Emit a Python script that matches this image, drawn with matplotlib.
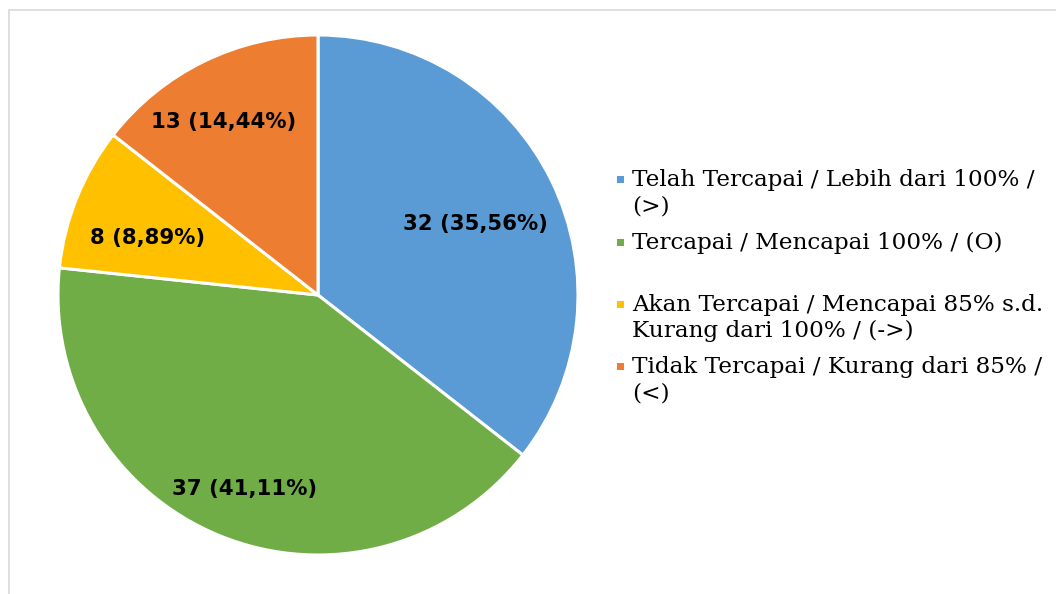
import matplotlib.pyplot as plt
from matplotlib.patches import Rectangle
import numpy as np

# Data
counts = [32, 37, 8, 13]
categories = [
    "Telah Tercapai / Lebih dari 100% /\n(>)",
    "Tercapai / Mencapai 100% / (O)",
    "Akan Tercapai / Mencapai 85% s.d.\nKurang dari 100% / (->)",
    "Tidak Tercapai / Kurang dari 85% /\n(<)",
]
colors = ["#5B9BD5", "#70AD47", "#FFC000", "#ED7D31"]

W, H = 1056, 594
fig = plt.figure(figsize=(W / 100, H / 100), dpi=100)

# light gray chart frame (Excel style)
fig.patches.append(Rectangle((8.5 / W, -0.02), 1.05, 1 - 9.5 / H + 0.02,
                             transform=fig.transFigure, fill=False,
                             edgecolor="#D9D9D9", linewidth=1.2))

# pie axes: center (318, 295) px, radius 260 px
cx, cy, r = 318, 295, 260
ax = fig.add_axes([(cx - r) / W, (H - cy - r) / H, 2 * r / W, 2 * r / H])
wedges, _ = ax.pie(counts, colors=colors, startangle=90, counterclock=False,
                   radius=1, wedgeprops=dict(edgecolor="white", linewidth=2.2))
ax.set_xlim(-1, 1)
ax.set_ylim(-1, 1)
ax.set_aspect("equal")
ax.axis("off")

# data labels (Excel best-fit positions: radius fraction, angle shift in deg)
label_pos = [(0.663, -1.7), (0.798, 1.2), (0.69, 3.5), (0.758, 2.6)]
total = sum(counts)
for w, n, (rf, da) in zip(wedges, counts, label_pos):
    ang = np.deg2rad((w.theta1 + w.theta2) / 2 + da)
    txt = f"{n} ({n / total * 100:.2f}%)".replace(".", ",")
    ax.text(rf * np.cos(ang), rf * np.sin(ang), txt, ha="center", va="center",
            fontsize=15.3, fontweight="bold", family="DejaVu Sans", color="black")

# legend drawn by hand to match the Excel layout
baselines = [186, 249, 311, 373]
for lab, col, yb in zip(categories, colors, baselines):
    fig.patches.append(Rectangle((617 / W, (H - yb + 3) / H), 7 / W, 7 / H,
                                 transform=fig.transFigure, facecolor=col,
                                 edgecolor="none"))
    lines = lab.split("\n")
    for i, line in enumerate(lines):
        fig.text(632 / W, (H - yb - i * 26.5) / H, line, ha="left", va="baseline",
                 fontsize=16.7, family="DejaVu Serif", color="black")

fig.savefig("out.png", dpi=100)
